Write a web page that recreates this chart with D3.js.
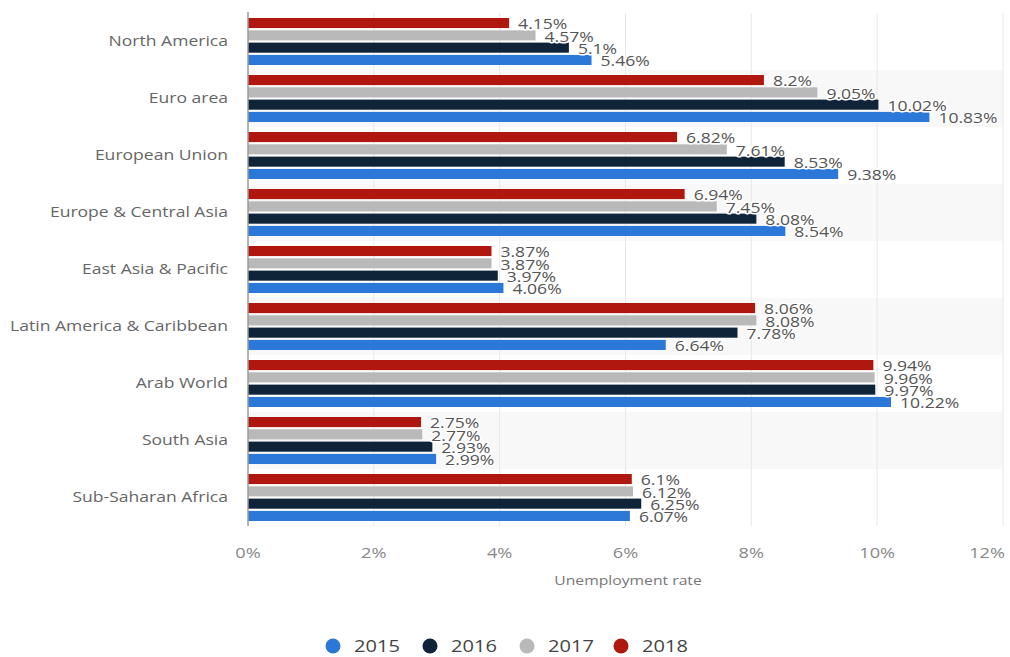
<!DOCTYPE html>
<html>
<meta charset="utf-8">
<script src="https://d3js.org/d3.v7.min.js"></script>
<style>
  body { margin: 0; background: #fff; }
  text { font-family: "Open Sans", "DejaVu Sans", sans-serif; }
</style>
<body>
<div id="my_dataviz"></div>
<script>

// data
var regions = ["North America", "Euro area", "European Union", "Europe & Central Asia",
  "East Asia & Pacific", "Latin America & Caribbean", "Arab World", "South Asia", "Sub-Saharan Africa"];
var years = ["2015", "2016", "2017", "2018"];
var v2015 = [5.46, 10.83, 9.38, 8.54, 4.06, 6.64, 10.22, 2.99, 6.07];
var v2016 = [5.1, 10.02, 8.53, 8.08, 3.97, 7.78, 9.97, 2.93, 6.25];
var v2017 = [4.57, 9.05, 7.61, 7.45, 3.87, 8.08, 9.96, 2.77, 6.12];
var v2018 = [4.15, 8.2, 6.82, 6.94, 3.87, 8.06, 9.94, 2.75, 6.1];
var xTicks = [0, 2, 4, 6, 8, 10, 12];

var values = { "2015": v2015, "2016": v2016, "2017": v2017, "2018": v2018 };
var colors = { "2015": "#2b78d9", "2016": "#0f2339", "2017": "#b9b9b9", "2018": "#b0180f" };
var drawOrder = ["2018", "2017", "2016", "2015"]; // top to bottom within a group

var width = 1010, height = 657;
var svg = d3.select("#my_dataviz").append("svg")
  .attr("width", width).attr("height", height);

var x = d3.scaleLinear().domain([0, 12]).range([248, 1003]);
var y = d3.scaleBand().domain(regions).range([13, 526]);
var yInner = d3.scaleBand().domain(drawOrder).range([5, 52]).paddingInner(0.18);

// the reference text is a bit wide, so stretch it horizontally
function place(px, py, sx) {
  return "translate(" + px + "," + py + ") scale(" + sx + ",1)";
}

// alternating row shading
svg.append("g").selectAll("rect")
  .data(regions.filter(function(d, i) { return i % 2 == 1; }))
  .enter().append("rect")
    .attr("x", x(0)).attr("width", x(12) - x(0))
    .attr("y", function(d) { return y(d); })
    .attr("height", y.bandwidth())
    .attr("fill", "#f8f8f8");

// grid lines
svg.append("g").selectAll("line")
  .data(xTicks.slice(1))
  .enter().append("line")
    .attr("x1", function(d) { return x(d); }).attr("x2", function(d) { return x(d); })
    .attr("y1", 13).attr("y2", 526)
    .attr("stroke", "#e8e8e8");

// bars
var rows = [];
regions.forEach(function(r, i) {
  drawOrder.forEach(function(yr) { rows.push({ region: r, year: yr, value: values[yr][i] }); });
});

svg.append("g").selectAll("rect")
  .data(rows)
  .enter().append("rect")
    .attr("x", x(0))
    .attr("y", function(d) { return y(d.region) + yInner(d.year); })
    .attr("width", function(d) { return x(d.value) - x(0); })
    .attr("height", yInner.bandwidth())
    .attr("fill", function(d) { return colors[d.year]; });

// y axis line
svg.append("line")
  .attr("x1", x(0)).attr("x2", x(0)).attr("y1", 12).attr("y2", 526)
  .attr("stroke", "#9a9a9a").attr("stroke-width", 1.5);

// value labels
svg.append("g").selectAll("text")
  .data(rows)
  .enter().append("text")
    .attr("transform", function(d) {
      return place(x(d.value) + 9, y(d.region) + yInner(d.year) + yInner.bandwidth() / 2 + 1, 1.17);
    })
    .attr("dy", "0.35em")
    .attr("font-size", "15px")
    .attr("fill", "#555")
    .attr("stroke", "#fff").attr("stroke-width", 3).attr("paint-order", "stroke")
    .attr("stroke-linejoin", "round")
    .text(function(d) { return d.value + "%"; });

// category labels
svg.append("g").selectAll("text")
  .data(regions)
  .enter().append("text")
    .attr("transform", function(d) { return place(228, y(d) + y.bandwidth() / 2 - 1, 1.17); })
    .attr("dy", "0.35em")
    .attr("text-anchor", "end")
    .attr("font-size", "15px")
    .attr("fill", "#666")
    .text(function(d) { return d; });

// x tick labels
svg.append("g").selectAll("text")
  .data(xTicks)
  .enter().append("text")
    .attr("transform", function(d) { return place(d == 12 ? x(d) + 2 : x(d), 558, 1.3); })
    .attr("text-anchor", function(d) { return d == 12 ? "end" : "middle"; })
    .attr("font-size", "14px")
    .attr("fill", "#888")
    .text(function(d) { return d + "%"; });

svg.append("text")
  .attr("transform", place(628, 585, 1.21))
  .attr("text-anchor", "middle")
  .attr("font-size", "13px")
  .attr("fill", "#777")
  .text("Unemployment rate");

// legend
var legendX = [333, 430, 527, 621];
var lg = svg.append("g").selectAll("g")
  .data(years)
  .enter().append("g")
    .attr("transform", function(d, i) { return "translate(" + legendX[i] + ",646)"; });
lg.append("circle").attr("r", 7.5).attr("fill", function(d) { return colors[d]; });
lg.append("text")
  .attr("transform", place(21, 0, 1.18))
  .attr("dy", "0.35em")
  .attr("font-size", "17px")
  .attr("fill", "#444")
  .text(function(d) { return d; });

</script>
</body>
</html>
